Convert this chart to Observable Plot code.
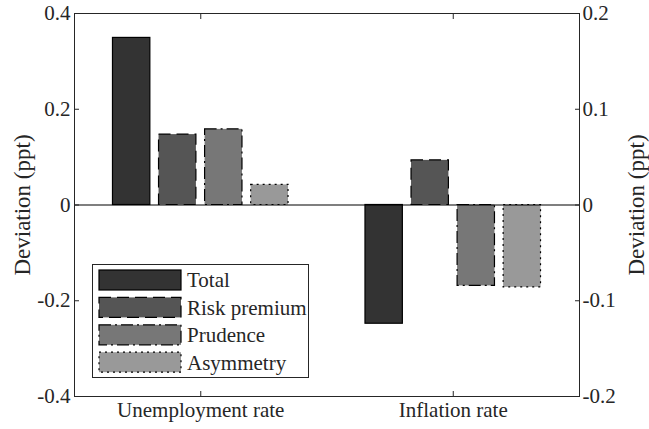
<!DOCTYPE html>
<html><head><meta charset="utf-8">
<script src="https://cdn.jsdelivr.net/npm/d3@7"></script>
<script src="https://cdn.jsdelivr.net/npm/@observablehq/plot@0.6"></script>
<style>
html,body{margin:0;padding:0;background:#fff;}
#chart{position:relative;width:649px;height:429px;font-family:"Liberation Serif","Times New Roman",serif;}
#legend{position:absolute;left:92px;top:264px;}
</style></head><body><div id="chart"></div>
<script>
// ---- data ----
const groups = ["Unemployment rate", "Inflation rate"];
const series = ["Total", "Risk premium", "Prudence", "Asymmetry"];
const unemployment = [0.349, 0.147, 0.158, 0.042];   // left axis units
const inflation = [-0.124, 0.0466, -0.0845, -0.086];  // right axis units
const leftTicks = [-0.4, -0.2, 0, 0.2, 0.4];
const rightTicks = [-0.2, -0.1, 0, 0.1, 0.2];
const yLabel = "Deviation (ppt)";

// ---- styles ----
const fills = ["#333333", "#555555", "#777777", "#999999"];
const dashes = [null, "12,6", "12,4,2,4", "2,4"];
const axisRatio = 2; // left-axis span / right-axis span
const step = 0.1824, barW = 0.148;
const ink = "#262626";

const rows = [];
groups.forEach((g, gi) => {
  const vals = gi === 0 ? unemployment : inflation;
  const f = gi === 0 ? 1 : axisRatio;
  series.forEach((s, si) => {
    const c = gi + 1 + (si - 1.5) * step;
    rows.push({group: g, series: s, si, value: vals[si], y: vals[si] * f, x1: c - barW / 2, x2: c + barW / 2});
  });
});
const rightLabel = new Map(leftTicks.map((t, i) => [t, rightTicks[i]]));

const barMarks = series.map((s, si) =>
  Plot.rect(rows.filter(r => r.si === si), {
    x1: "x1", x2: "x2", y1: 0, y2: "y",
    fill: fills[si], stroke: "#000", strokeWidth: 1.2,
    strokeDasharray: dashes[si]
  })
);

const chart = Plot.plot({
  width: 649, height: 429,
  marginLeft: 74, marginRight: 70, marginTop: 13, marginBottom: 33,
  style: {fontFamily: '"Liberation Serif","Times New Roman",serif', fontSize: "21px", color: ink, background: "#fff"},
  x: {domain: [0.5, 2.5], axis: null},
  y: {domain: [-0.4, 0.4], axis: null, label: null},
  marks: [
    ...barMarks,
    Plot.ruleY([0], {stroke: "#000", strokeWidth: 1.2}),
    Plot.axisY(leftTicks, {anchor: "left", tickSize: -5, tickPadding: 9, tickFormat: d => String(d), label: null, stroke: ink, fill: ink}),
    Plot.axisY(leftTicks, {anchor: "right", tickSize: -5, tickPadding: 8, tickFormat: d => String(rightLabel.get(d)), label: null, stroke: ink, fill: ink}),
    Plot.axisX([1, 2], {anchor: "bottom", tickSize: -5, tickPadding: 11, tickFormat: d => groups[d - 1], label: null, stroke: ink, fill: ink}),
    Plot.axisX([1, 2], {anchor: "top", tickSize: -5, tickFormat: () => "", label: null, stroke: ink}),
    Plot.text([yLabel], {frameAnchor: "left", text: d => d, rotate: -90, dx: -52, fontSize: 23, textAnchor: "middle", lineAnchor: "middle", fill: ink}),
    Plot.text([yLabel], {frameAnchor: "right", text: d => d, rotate: -90, dx: 57, fontSize: 23, textAnchor: "middle", lineAnchor: "middle", fill: ink}),
    Plot.frame({stroke: ink, strokeWidth: 1})
  ]
});
const host = document.getElementById("chart");
host.appendChild(chart);

// ---- legend (inside the axes, like the original) ----
const L = d3.select(host).append("svg").attr("id", "legend")
  .attr("width", 218).attr("height", 115)
  .style("font-family", '"Liberation Serif","Times New Roman",serif').style("font-size", "21px");
L.append("rect").attr("x", 0.5).attr("y", 0.5).attr("width", 216).attr("height", 113)
  .attr("fill", "#fff").attr("stroke", ink).attr("stroke-width", 1);
const item = L.selectAll("g.item").data(series).join("g").attr("class", "item")
  .attr("transform", (d, i) => `translate(7,${6 + i * 27.4})`);
item.append("rect").attr("width", 82).attr("height", 20)
  .attr("fill", (d, i) => fills[i]).attr("stroke", "#000").attr("stroke-width", 1.2)
  .attr("stroke-dasharray", (d, i) => dashes[i]);
item.append("text").attr("x", 88).attr("y", 10).attr("dy", "0.35em").attr("fill", ink).text(d => d);
</script>
</body></html>
